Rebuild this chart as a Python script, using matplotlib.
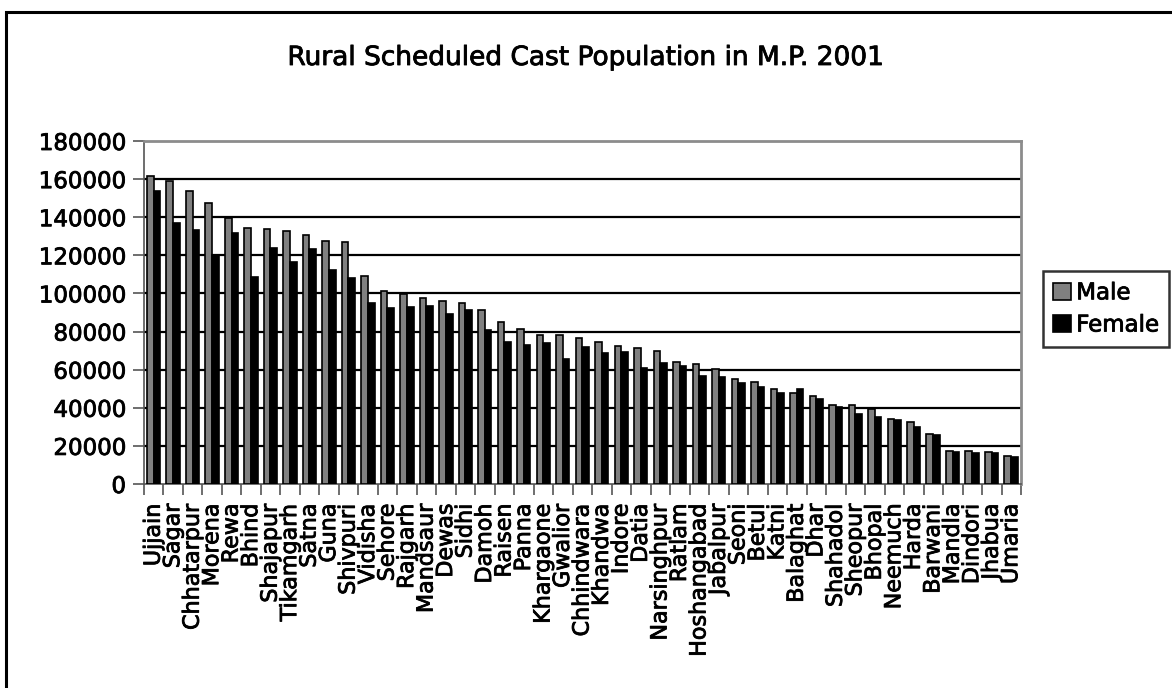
import matplotlib
matplotlib.use("Agg")
import matplotlib.pyplot as plt
import matplotlib.patheffects as pe
from matplotlib.patches import Rectangle
import numpy as np

districts = [
    "Ujjain", "Sagar", "Chhatarpur", "Morena", "Rewa", "Bhind", "Shajapur",
    "Tikamgarh", "Satna", "Guna", "Shivpuri", "Vidisha", "Sehore", "Rajgarh",
    "Mandsaur", "Dewas", "Sidhi", "Damoh", "Raisen", "Panna", "Khargaone",
    "Gwalior", "Chhindwara", "Khandwa", "Indore", "Datia", "Narsinghpur",
    "Ratlam", "Hoshangabad", "Jabalpur", "Seoni", "Betul", "Katni",
    "Balaghat", "Dhar", "Shahadol", "Sheopur", "Bhopal", "Neemuch", "Harda",
    "Barwani", "Mandla", "Dindori", "Jhabua", "Umaria",
]

male = [
    161700, 158900, 153700, 147500, 139600, 134400, 133900, 132600, 130500,
    127600, 127000, 109000, 101500, 99600, 97800, 96200, 95000, 91500,
    85200, 81400, 78400, 78400, 76700, 74700, 72600, 71600, 70000, 64000,
    63200, 60500, 55000, 53400, 49700, 47600, 46200, 41600, 41600, 39200,
    34300, 32700, 26200, 17500, 17100, 16600, 14500,
]

female = [
    153800, 137200, 133500, 120000, 131600, 108800, 124100, 116400, 123400,
    112500, 108000, 94900, 92400, 93100, 93500, 89400, 91200, 81000,
    74600, 73000, 73900, 65500, 72100, 68900, 69500, 61100, 63500, 62000,
    56500, 56300, 53200, 50900, 47900, 50000, 44600, 40300, 36600, 35300,
    33400, 29800, 25900, 16600, 16300, 16100, 14000,
]

series_names = ["Male", "Female"]
y_ticks = list(range(0, 180001, 20000))
title = "Rural Scheduled Cast Population in M.P. 2001"

plt.rcParams["font.family"] = ["DejaVu Sans"]

# a thin outline gives the text a slightly heavier, medium-weight look
heavy = [pe.withStroke(linewidth=0.6, foreground="black")]

W, H = 1172, 688
fig = plt.figure(figsize=(W / 100, H / 100), dpi=100)
fig.patch.set_facecolor("white")

# outer frame (left and top edges fall inside the canvas)
fig.patches.append(Rectangle((6 / W, -0.2), 1.5, 1.2 - 12 / H,
                             transform=fig.transFigure, fill=False,
                             edgecolor="black", linewidth=2.2, zorder=0))

ax = fig.add_axes([144 / W, 1 - 484 / H, (1021 - 144) / W, (484 - 141) / H])

n = len(districts)
x = np.arange(n) + 0.5
bw = 0.34
ax.bar(x - bw / 2 - 0.01, male, width=bw, color="#808080", edgecolor="black",
       linewidth=1.2, label=series_names[0], zorder=3)
ax.bar(x + bw / 2 - 0.01, female, width=bw, color="black", edgecolor="black",
       linewidth=1.2, label=series_names[1], zorder=3)

ax.set_xlim(0, n)
ax.set_ylim(0, 180000)

ax.set_yticks(y_ticks)
ax.set_yticklabels([str(v) for v in y_ticks], fontsize=16.5)
ax.tick_params(axis="y", length=8, width=1.2, color="#555555", pad=5)

for v in y_ticks[1:-1]:
    ax.axhline(v, color="black", linewidth=1.6, zorder=1)

ax.set_xticks(np.arange(n + 1), minor=True)
ax.set_xticks(x)
ax.set_xticklabels(districts, rotation=90, fontsize=16, va="top", ha="center")
ax.tick_params(axis="x", which="major", length=0, pad=14)
ax.tick_params(axis="x", which="minor", length=8, width=1.2, color="#555555")

for lbl in ax.get_xticklabels() + ax.get_yticklabels():
    lbl.set_path_effects(heavy)

for side in ("top", "right"):
    ax.spines[side].set_color("#8c8c8c")
    ax.spines[side].set_linewidth(2)
for side in ("left", "bottom"):
    ax.spines[side].set_color("#555555")
    ax.spines[side].set_linewidth(1.2)

fig.text(586 / W, 1 - 65 / H, title, fontsize=19, ha="center",
         va="baseline", path_effects=heavy)

leg = fig.legend(loc="upper left", bbox_to_anchor=(1043 / W, 1 - 271 / H),
                 fontsize=16.5, frameon=True, fancybox=False,
                 handlelength=0.75, handleheight=0.75, handletextpad=0.25,
                 labelspacing=0.4, borderpad=0.45, borderaxespad=0)
leg.get_frame().set_edgecolor("black")
leg.get_frame().set_linewidth(1.8)
for t in leg.get_texts():
    t.set_path_effects(heavy)

fig.savefig("out.png", dpi=100)
